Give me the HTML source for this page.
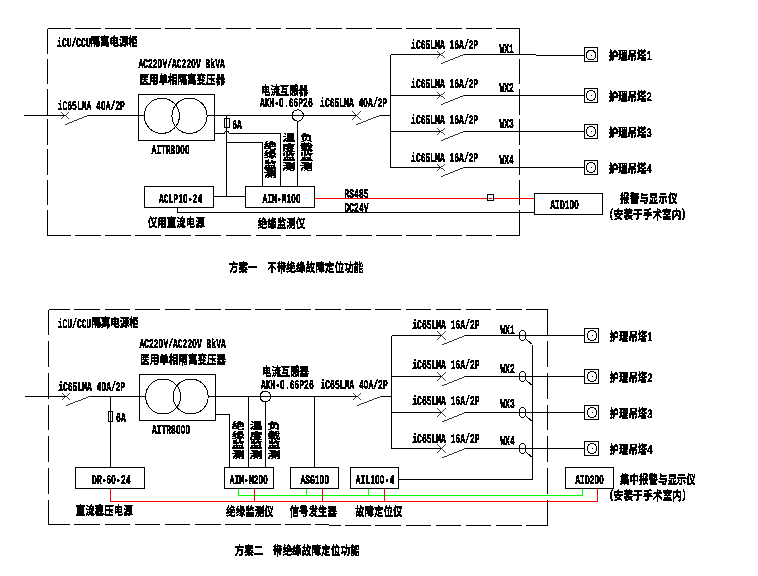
<!DOCTYPE html>
<html lang="zh-CN"><head><meta charset="utf-8"><title>医疗IT隔离电源系统方案</title>
<style>
html,body{margin:0;padding:0;background:#fff;}
body{width:758px;height:576px;overflow:hidden;}
svg{display:block;will-change:transform;shape-rendering:crispEdges;}
text{text-rendering:geometricPrecision;}
text.l{font-family:"Liberation Mono",monospace;font-size:13.3px;font-weight:bold;fill:#000;stroke:#000;stroke-width:0.3px;}
tspan.z{font-family:"Liberation Sans",sans-serif;letter-spacing:0.044em;}
text.c{font-family:"Liberation Sans","Noto Sans CJK SC",sans-serif;font-weight:700;fill:#000;stroke:#000;stroke-width:0.12px;}
</style></head><body>
<svg width="758" height="576" viewBox="0 0 758 576">
<rect width="758" height="576" fill="#fff"/>
<path d="M47.50 28.5H70.60M75.00 28.5H100.70M105.10 28.5H130.80M135.20 28.5H160.90M165.30 28.5H191.00M195.40 28.5H221.10M225.50 28.5H251.20M255.60 28.5H281.30M285.70 28.5H311.40M315.80 28.5H341.50M345.90 28.5H371.60M376.00 28.5H401.70M406.10 28.5H431.80M436.20 28.5H461.90M466.30 28.5H492.00M496.40 28.5H519.50M47.50 235.5H70.60M75.00 235.5H100.70M105.10 235.5H130.80M135.20 235.5H160.90M165.30 235.5H191.00M195.40 235.5H221.10M225.50 235.5H251.20M255.60 235.5H281.30M285.70 235.5H311.40M315.80 235.5H341.50M345.90 235.5H371.60M376.00 235.5H401.70M406.10 235.5H431.80M436.20 235.5H461.90M466.30 235.5H492.00M496.40 235.5H519.50M47.5 28.50V54.20M519.5 28.50V54.20M47.5 58.72V84.42M519.5 58.72V84.42M47.5 88.93V114.63M519.5 88.93V114.63M47.5 119.15V144.85M519.5 119.15V144.85M47.5 149.37V175.07M519.5 149.37V175.07M47.5 179.58V205.28M519.5 179.58V205.28M47.5 209.80V235.50M519.5 209.80V235.50" fill="none" stroke="#000" stroke-width="1"/>
<line x1="24" y1="115.5" x2="65" y2="115.5" stroke="#000" stroke-width="1" />
<line x1="60.9" y1="111.8" x2="69.1" y2="119.2" stroke="#000" stroke-width="0.75" />
<line x1="60.9" y1="119.2" x2="69.1" y2="111.8" stroke="#000" stroke-width="0.75" />
<line x1="65" y1="124.7" x2="88.3" y2="115.5" stroke="#000" stroke-width="0.8" />
<line x1="88.3" y1="115.5" x2="144.3" y2="115.5" stroke="#000" stroke-width="1" />
<rect x="138.5" y="94.5" width="76.0" height="45.5" fill="none" stroke="#000" stroke-width="1"/>
<circle cx="161.8" cy="115.8" r="17.6" fill="none" stroke="#000" stroke-width="1"/>
<circle cx="189.5" cy="115.8" r="17.6" fill="none" stroke="#000" stroke-width="1"/>
<line x1="207" y1="115.5" x2="356.4" y2="115.5" stroke="#000" stroke-width="1" />
<line x1="226.5" y1="115.5" x2="226.5" y2="196.5" stroke="#000" stroke-width="1" />
<rect x="224.5" y="118.5" width="5.0" height="9.0" fill="none" stroke="#000" stroke-width="1"/>
<path d="M214.5 133.5H224L225.5 131.5H228L229.5 133.5H280.5V186.5" fill="none" stroke="#000" stroke-width="1"/>
<polyline points="226.5,142.5 262.5,142.5 262.5,186.5" fill="none" stroke="#000" stroke-width="1" />
<circle cx="297.7" cy="115.5" r="5.7" fill="none" stroke="#000" stroke-width="1"/>
<line x1="138" y1="115.5" x2="138" y2="115.5" stroke="#000" stroke-width="1" />
<line x1="297.5" y1="121.0" x2="297.5" y2="186.5" stroke="#000" stroke-width="1" />
<rect x="144.5" y="186.5" width="69.0" height="21.0" fill="none" stroke="#000" stroke-width="1"/>
<rect x="245.5" y="186.5" width="69.0" height="21.0" fill="none" stroke="#000" stroke-width="1"/>
<line x1="213.5" y1="196.5" x2="245.5" y2="196.5" stroke="#000" stroke-width="1" />
<polyline points="177.5,207.5 177.5,212.5 534.5,212.5" fill="none" stroke="#000" stroke-width="1" />
<line x1="314.5" y1="198.5" x2="534.5" y2="198.5" stroke="#f00" stroke-width="1" />
<rect x="487.5" y="194.5" width="6.0" height="6.0" fill="none" stroke="#000" stroke-width="1"/>
<rect x="488" y="198" width="1" height="1" fill="#0ff"/><rect x="492" y="198" width="1" height="1" fill="#0ff"/>
<line x1="352.29999999999995" y1="111.8" x2="360.5" y2="119.2" stroke="#000" stroke-width="0.75" />
<line x1="352.29999999999995" y1="119.2" x2="360.5" y2="111.8" stroke="#000" stroke-width="0.75" />
<line x1="356.4" y1="124.7" x2="379.8" y2="115.5" stroke="#000" stroke-width="0.8" />
<line x1="379.8" y1="115.5" x2="390.5" y2="115.5" stroke="#000" stroke-width="1" />
<line x1="390.5" y1="54.5" x2="390.5" y2="167.5" stroke="#000" stroke-width="1" />
<line x1="390.5" y1="54.5" x2="440.9" y2="54.5" stroke="#000" stroke-width="1" />
<line x1="436.79999999999995" y1="50.8" x2="445.0" y2="58.2" stroke="#000" stroke-width="0.75" />
<line x1="436.79999999999995" y1="58.2" x2="445.0" y2="50.8" stroke="#000" stroke-width="0.75" />
<line x1="440.9" y1="63.7" x2="464.2" y2="54.5" stroke="#000" stroke-width="0.8" />
<polyline points="464.2,54.5 535.5,54.5" fill="none" stroke="#000" stroke-width="1" />
<line x1="535.5" y1="55.5" x2="584.5" y2="55.5" stroke="#000" stroke-width="1" />
<rect x="584.5" y="47.5" width="13.0" height="14.0" fill="none" stroke="#000" stroke-width="1"/>
<circle cx="591.0" cy="55.2" r="4.9" fill="none" stroke="#000" stroke-width="1"/>
<rect x="590.5" y="54.7" width="1" height="1" fill="#000"/>
<line x1="390.5" y1="95.5" x2="440.9" y2="95.5" stroke="#000" stroke-width="1" />
<line x1="436.79999999999995" y1="91.8" x2="445.0" y2="99.2" stroke="#000" stroke-width="0.75" />
<line x1="436.79999999999995" y1="99.2" x2="445.0" y2="91.8" stroke="#000" stroke-width="0.75" />
<line x1="440.9" y1="104.7" x2="464.2" y2="95.5" stroke="#000" stroke-width="0.8" />
<line x1="464.2" y1="95.5" x2="584.5" y2="95.5" stroke="#000" stroke-width="1" />
<rect x="584.5" y="88.5" width="13.0" height="14.0" fill="none" stroke="#000" stroke-width="1"/>
<circle cx="591.0" cy="95.5" r="4.9" fill="none" stroke="#000" stroke-width="1"/>
<rect x="590.5" y="95.0" width="1" height="1" fill="#000"/>
<line x1="390.5" y1="131.5" x2="440.9" y2="131.5" stroke="#000" stroke-width="1" />
<line x1="436.79999999999995" y1="127.8" x2="445.0" y2="135.2" stroke="#000" stroke-width="0.75" />
<line x1="436.79999999999995" y1="135.2" x2="445.0" y2="127.8" stroke="#000" stroke-width="0.75" />
<line x1="440.9" y1="140.7" x2="464.2" y2="131.5" stroke="#000" stroke-width="0.8" />
<line x1="464.2" y1="131.5" x2="584.5" y2="131.5" stroke="#000" stroke-width="1" />
<rect x="584.5" y="124.5" width="13.0" height="14.0" fill="none" stroke="#000" stroke-width="1"/>
<circle cx="591.0" cy="131.5" r="4.9" fill="none" stroke="#000" stroke-width="1"/>
<rect x="590.5" y="131.0" width="1" height="1" fill="#000"/>
<line x1="390.5" y1="167.5" x2="440.9" y2="167.5" stroke="#000" stroke-width="1" />
<line x1="436.79999999999995" y1="163.8" x2="445.0" y2="171.2" stroke="#000" stroke-width="0.75" />
<line x1="436.79999999999995" y1="171.2" x2="445.0" y2="163.8" stroke="#000" stroke-width="0.75" />
<line x1="440.9" y1="176.7" x2="464.2" y2="167.5" stroke="#000" stroke-width="0.8" />
<line x1="464.2" y1="167.5" x2="584.5" y2="167.5" stroke="#000" stroke-width="1" />
<rect x="584.5" y="160.5" width="13.0" height="14.0" fill="none" stroke="#000" stroke-width="1"/>
<circle cx="591.0" cy="167.5" r="4.9" fill="none" stroke="#000" stroke-width="1"/>
<rect x="590.5" y="167.0" width="1" height="1" fill="#000"/>
<rect x="534.5" y="193.5" width="68.0" height="21.0" fill="none" stroke="#000" stroke-width="1"/>
<path d="M48.50 309.5H70.05M74.45 309.5H100.15M104.55 309.5H130.25M134.65 309.5H160.35M164.75 309.5H190.45M194.85 309.5H220.55M224.95 309.5H250.65M255.05 309.5H280.75M285.15 309.5H310.85M315.25 309.5H340.95M345.35 309.5H371.05M375.45 309.5H401.15M405.55 309.5H431.25M435.65 309.5H461.35M465.75 309.5H491.45M495.85 309.5H521.55M525.95 309.5H547.50M48.50 524.5H70.05M74.45 524.5H100.15M104.55 524.5H130.25M134.65 524.5H160.35M164.75 524.5H190.45M194.85 524.5H220.55M224.95 524.5H250.65M255.05 524.5H280.75M285.15 524.5H310.85M315.25 524.5H329M329 525.5H340.95M345.35 525.5H371.05M375.45 525.5H401.15M405.55 525.5H431.25M435.65 525.5H461.35M465.75 525.5H491.45M495.85 525.5H521.55M525.95 525.5H547.50M48.5 309.50V335.20M547.5 309.50V335.20M48.5 341.22V366.92M547.5 341.22V366.92M48.5 372.93V398.63M547.5 372.93V398.63M48.5 404.65V430.35M547.5 404.65V430.35M48.5 436.37V462.07M547.5 436.37V462.07M48.5 468.08V493.78M547.5 468.08V493.78M48.5 499.80V524.50M547.5 499.80V525.50" fill="none" stroke="#000" stroke-width="1"/>
<line x1="24.5" y1="396.5" x2="66" y2="396.5" stroke="#000" stroke-width="1" />
<line x1="61.9" y1="392.8" x2="70.1" y2="400.2" stroke="#000" stroke-width="0.75" />
<line x1="61.9" y1="400.2" x2="70.1" y2="392.8" stroke="#000" stroke-width="0.75" />
<line x1="66" y1="405.7" x2="89.5" y2="396.5" stroke="#000" stroke-width="0.8" />
<line x1="89.5" y1="396.5" x2="145.5" y2="396.5" stroke="#000" stroke-width="1" />
<line x1="110.5" y1="396.5" x2="110.5" y2="467.5" stroke="#000" stroke-width="1" />
<rect x="108.5" y="411.5" width="4.0" height="10.0" fill="none" stroke="#000" stroke-width="1"/>
<rect x="139.5" y="374.5" width="76.0" height="46.0" fill="none" stroke="#000" stroke-width="1"/>
<circle cx="163.1" cy="396.5" r="17.5" fill="none" stroke="#000" stroke-width="1"/>
<circle cx="190.7" cy="396.5" r="17.5" fill="none" stroke="#000" stroke-width="1"/>
<line x1="208.2" y1="396.5" x2="357" y2="396.5" stroke="#000" stroke-width="1" />
<polyline points="215.5,414.5 229.5,414.5 229.5,467.5" fill="none" stroke="#000" stroke-width="1" />
<line x1="248.5" y1="396.5" x2="248.5" y2="467.5" stroke="#000" stroke-width="1" />
<circle cx="265.4" cy="396.5" r="5.4" fill="none" stroke="#000" stroke-width="1"/>
<line x1="265.5" y1="401.9" x2="265.5" y2="467.5" stroke="#000" stroke-width="1" />
<line x1="314.5" y1="396.5" x2="314.5" y2="467.5" stroke="#000" stroke-width="1" />
<rect x="75.5" y="467.5" width="69.0" height="21.0" fill="none" stroke="#000" stroke-width="1"/>
<rect x="224.5" y="467.5" width="49.0" height="21.0" fill="none" stroke="#000" stroke-width="1"/>
<rect x="290.5" y="467.5" width="48.0" height="21.0" fill="none" stroke="#000" stroke-width="1"/>
<rect x="350.5" y="467.5" width="48.0" height="21.0" fill="none" stroke="#000" stroke-width="1"/>
<rect x="565.5" y="467.5" width="48.0" height="21.0" fill="none" stroke="#000" stroke-width="1"/>
<polyline points="238.5,488.5 238.5,495.5 582.5,495.5 582.5,488.5" fill="none" stroke="#0f0" stroke-width="1" />
<line x1="306.5" y1="488.5" x2="306.5" y2="495.5" stroke="#0f0" stroke-width="1" />
<line x1="368.5" y1="488.5" x2="368.5" y2="495.5" stroke="#0f0" stroke-width="1" />
<polyline points="110.5,488.5 110.5,501.5 597.5,501.5 597.5,488.5" fill="none" stroke="#f00" stroke-width="1" />
<line x1="254.5" y1="488.5" x2="254.5" y2="501.5" stroke="#f00" stroke-width="1" />
<line x1="322.5" y1="488.5" x2="322.5" y2="501.5" stroke="#f00" stroke-width="1" />
<line x1="384.5" y1="488.5" x2="384.5" y2="501.5" stroke="#f00" stroke-width="1" />
<line x1="352.9" y1="392.8" x2="361.1" y2="400.2" stroke="#000" stroke-width="0.75" />
<line x1="352.9" y1="400.2" x2="361.1" y2="392.8" stroke="#000" stroke-width="0.75" />
<line x1="357" y1="405.7" x2="380.9" y2="396.5" stroke="#000" stroke-width="0.8" />
<line x1="380.9" y1="396.5" x2="391.5" y2="396.5" stroke="#000" stroke-width="1" />
<line x1="391.5" y1="335.5" x2="391.5" y2="448.5" stroke="#000" stroke-width="1" />
<line x1="391.5" y1="335.5" x2="441.5" y2="335.5" stroke="#000" stroke-width="1" />
<line x1="437.4" y1="331.8" x2="445.6" y2="339.2" stroke="#000" stroke-width="0.75" />
<line x1="437.4" y1="339.2" x2="445.6" y2="331.8" stroke="#000" stroke-width="0.75" />
<line x1="441.5" y1="344.7" x2="464.6" y2="335.5" stroke="#000" stroke-width="0.8" />
<line x1="464.6" y1="335.5" x2="584.5" y2="335.5" stroke="#000" stroke-width="1" />
<rect x="584.5" y="328.5" width="14.0" height="14.0" fill="none" stroke="#000" stroke-width="1"/>
<circle cx="592.0" cy="335.5" r="4.9" fill="none" stroke="#000" stroke-width="1"/>
<rect x="591.5" y="335.0" width="1" height="1" fill="#000"/>
<ellipse cx="522.6" cy="335.5" rx="3.4" ry="5.0" fill="none" stroke="#000" stroke-width="1"/>
<line x1="525.6" y1="338.9" x2="532.5" y2="344.5" stroke="#000" stroke-width="1" />
<line x1="391.5" y1="376.5" x2="441.5" y2="376.5" stroke="#000" stroke-width="1" />
<line x1="437.4" y1="372.8" x2="445.6" y2="380.2" stroke="#000" stroke-width="0.75" />
<line x1="437.4" y1="380.2" x2="445.6" y2="372.8" stroke="#000" stroke-width="0.75" />
<line x1="441.5" y1="385.7" x2="464.6" y2="376.5" stroke="#000" stroke-width="0.8" />
<line x1="464.6" y1="376.5" x2="584.5" y2="376.5" stroke="#000" stroke-width="1" />
<rect x="584.5" y="369.5" width="14.0" height="14.0" fill="none" stroke="#000" stroke-width="1"/>
<circle cx="592.0" cy="376.5" r="4.9" fill="none" stroke="#000" stroke-width="1"/>
<rect x="591.5" y="376.0" width="1" height="1" fill="#000"/>
<ellipse cx="522.6" cy="376.5" rx="3.4" ry="5.0" fill="none" stroke="#000" stroke-width="1"/>
<line x1="525.6" y1="379.9" x2="532.5" y2="385.5" stroke="#000" stroke-width="1" />
<line x1="391.5" y1="412.5" x2="441.5" y2="412.5" stroke="#000" stroke-width="1" />
<line x1="437.4" y1="408.8" x2="445.6" y2="416.2" stroke="#000" stroke-width="0.75" />
<line x1="437.4" y1="416.2" x2="445.6" y2="408.8" stroke="#000" stroke-width="0.75" />
<line x1="441.5" y1="421.7" x2="464.6" y2="412.5" stroke="#000" stroke-width="0.8" />
<line x1="464.6" y1="412.5" x2="584.5" y2="412.5" stroke="#000" stroke-width="1" />
<rect x="584.5" y="405.5" width="14.0" height="14.0" fill="none" stroke="#000" stroke-width="1"/>
<circle cx="592.0" cy="412.5" r="4.9" fill="none" stroke="#000" stroke-width="1"/>
<rect x="591.5" y="412.0" width="1" height="1" fill="#000"/>
<ellipse cx="522.6" cy="412.5" rx="3.4" ry="5.0" fill="none" stroke="#000" stroke-width="1"/>
<line x1="525.6" y1="415.9" x2="532.5" y2="421.5" stroke="#000" stroke-width="1" />
<line x1="391.5" y1="448.5" x2="441.5" y2="448.5" stroke="#000" stroke-width="1" />
<line x1="437.4" y1="444.8" x2="445.6" y2="452.2" stroke="#000" stroke-width="0.75" />
<line x1="437.4" y1="452.2" x2="445.6" y2="444.8" stroke="#000" stroke-width="0.75" />
<line x1="441.5" y1="457.7" x2="464.6" y2="448.5" stroke="#000" stroke-width="0.8" />
<line x1="464.6" y1="448.5" x2="584.5" y2="448.5" stroke="#000" stroke-width="1" />
<rect x="584.5" y="441.5" width="14.0" height="14.0" fill="none" stroke="#000" stroke-width="1"/>
<circle cx="592.0" cy="448.5" r="4.9" fill="none" stroke="#000" stroke-width="1"/>
<rect x="591.5" y="448.0" width="1" height="1" fill="#000"/>
<ellipse cx="522.6" cy="448.5" rx="3.4" ry="5.0" fill="none" stroke="#000" stroke-width="1"/>
<line x1="525.6" y1="451.9" x2="532.5" y2="457.5" stroke="#000" stroke-width="1" />
<polyline points="532.5,344.5 532.5,479.5 398.5,479.5" fill="none" stroke="#000" stroke-width="1" />
<defs><filter id="bw" x="0" y="0" width="100%" height="100%" filterUnits="userSpaceOnUse" color-interpolation-filters="sRGB"><feComponentTransfer><feFuncA type="discrete" tableValues="0 0 1 1 1"/></feComponentTransfer></filter></defs>
<g filter="url(#bw)">
<text class="l" transform="translate(57.1,46.6) scale(0.6014,1)">iCU/CCU</text>
<text class="c" font-size="9.6" transform="translate(90.6,46.36) scale(0.9833,1.3)">隔离电源柜</text>
<text class="l" transform="translate(57.7,110.0) scale(0.6014,1)">iC65LMA 4<tspan class="z">0</tspan>A/2P</text>
<text class="l" transform="translate(138.4,68.2) scale(0.6014,1)">AC22<tspan class="z">0</tspan>V/AC22<tspan class="z">0</tspan>V 8kVA</text>
<text class="c" font-size="9.6" transform="translate(139.5,83.96) scale(0.9919,1.3)">医用单相隔离变压器</text>
<text class="l" transform="translate(151.4,154.4) scale(0.6014,1)">AITR8<tspan class="z">0</tspan><tspan class="z">0</tspan><tspan class="z">0</tspan></text>
<text class="l" transform="translate(232.3,129.4) scale(0.6014,1)">6A</text>
<text class="c" font-size="9.6" transform="translate(261,95.26) scale(0.9833,1.3)">电流互感器</text>
<text class="l" transform="translate(259.9,107.4) scale(0.6014,1)">AKH-<tspan class="z">0</tspan>.66P26</text>
<text class="c" font-size="9.6" text-anchor="middle" transform="translate(270.2,0) scale(1.354,1)" x="0 0 0 0" y="148.58 158.18 167.78 177.38">绝缘监测</text>
<text class="c" font-size="9.6" text-anchor="middle" transform="translate(288.8,0) scale(1.354,1)" x="0 0 0 0" y="141.08 150.68 160.28 169.88">温度监测</text>
<text class="c" font-size="9.6" text-anchor="middle" transform="translate(306.5,0) scale(1.354,1)" x="0 0 0 0" y="141.08 150.68 160.28 169.88">负载监测</text>
<text class="l" transform="translate(159.0,202.9) scale(0.6014,1)">ACLP1<tspan class="z">0</tspan>-24</text>
<text class="l" transform="translate(262.4,202.9) scale(0.6014,1)">AIM-M1<tspan class="z">0</tspan><tspan class="z">0</tspan></text>
<text class="c" font-size="9.6" transform="translate(147.8,227.36) scale(0.9896,1.3)">仪用直流电源</text>
<text class="c" font-size="9.6" transform="translate(257.8,227.86) scale(0.9917,1.3)">绝缘监测仪</text>
<text class="l" transform="translate(344.5,198.0) scale(0.6014,1)">RS485</text>
<text class="l" transform="translate(344.5,212.2) scale(0.6014,1)">DC24V</text>
<text class="l" transform="translate(320.1,107.4) scale(0.6014,1)">iC65LMA 4<tspan class="z">0</tspan>A/2P</text>
<text class="l" transform="translate(411.1,48.6) scale(0.6014,1)">iC65LMA 16A/2P</text>
<text class="l" transform="translate(499.4,53.2) scale(0.6014,1)">WX1</text>
<text class="c" font-size="9.6" transform="translate(608.8,60.46) scale(0.9792,1.3)">护理吊塔1</text>
<text class="l" transform="translate(411.1,88.3) scale(0.6014,1)">iC65LMA 16A/2P</text>
<text class="l" transform="translate(499.4,92.0) scale(0.6014,1)">WX2</text>
<text class="c" font-size="9.6" transform="translate(608.8,100.86) scale(0.9792,1.3)">护理吊塔2</text>
<text class="l" transform="translate(411.1,124.1) scale(0.6014,1)">iC65LMA 16A/2P</text>
<text class="l" transform="translate(499.4,127.6) scale(0.6014,1)">WX3</text>
<text class="c" font-size="9.6" transform="translate(608.8,137.06) scale(0.9792,1.3)">护理吊塔3</text>
<text class="l" transform="translate(411.1,161.9) scale(0.6014,1)">iC65LMA 16A/2P</text>
<text class="l" transform="translate(499.4,163.5) scale(0.6014,1)">WX4</text>
<text class="c" font-size="9.6" transform="translate(608.8,173.26) scale(0.9792,1.3)">护理吊塔4</text>
<text class="l" transform="translate(550.3,209.2) scale(0.6014,1)">AID1<tspan class="z">0</tspan><tspan class="z">0</tspan></text>
<text class="c" font-size="9.6" transform="translate(620.1,202.66) scale(0.9965,1.3)">报警与显示仪</text>
<text class="c" font-size="9.6" transform="translate(603.8,219.46) scale(1.0127,1.3)">（安装于手术室内）</text>
<text class="c" font-size="9.6" transform="translate(229,271.66) scale(0.9896,1.3)">方案一</text>
<text class="c" font-size="9.6" transform="translate(267,271.66) scale(1.0052,1.3)">不带绝缘故障定位功能</text>
<text class="l" transform="translate(57.7,327.6) scale(0.6014,1)">iCU/CCU</text>
<text class="c" font-size="9.6" transform="translate(91.4,327.36) scale(0.9833,1.3)">隔离电源柜</text>
<text class="l" transform="translate(58.2,391.0) scale(0.6014,1)">iC65LMA 4<tspan class="z">0</tspan>A/2P</text>
<text class="l" transform="translate(116.1,421.8) scale(0.6014,1)">6A</text>
<text class="l" transform="translate(139.4,347.6) scale(0.6014,1)">AC22<tspan class="z">0</tspan>V/AC22<tspan class="z">0</tspan>V 8kVA</text>
<text class="c" font-size="9.6" transform="translate(140.3,364.26) scale(0.9919,1.3)">医用单相隔离变压器</text>
<text class="l" transform="translate(151.9,434.4) scale(0.6014,1)">AITR8<tspan class="z">0</tspan><tspan class="z">0</tspan><tspan class="z">0</tspan></text>
<text class="c" font-size="9.6" transform="translate(262,375.56) scale(0.9792,1.3)">电流互感器</text>
<text class="l" transform="translate(260.9,388.6) scale(0.6014,1)">AKH-<tspan class="z">0</tspan>.66P26</text>
<text class="c" font-size="9.6" text-anchor="middle" transform="translate(238.2,0) scale(1.354,1)" x="0 0 0 0" y="429.08 438.68 448.28 457.88">绝缘监测</text>
<text class="c" font-size="9.6" text-anchor="middle" transform="translate(255.9,0) scale(1.354,1)" x="0 0 0 0" y="429.08 438.68 448.28 457.88">温度监测</text>
<text class="c" font-size="9.6" text-anchor="middle" transform="translate(274.0,0) scale(1.354,1)" x="0 0 0 0" y="429.08 438.68 448.28 457.88">负载监测</text>
<text class="l" transform="translate(92.1,484.2) scale(0.6014,1)">DR-6<tspan class="z">0</tspan>-24</text>
<text class="l" transform="translate(229.7,484.2) scale(0.6014,1)">AIM-M2<tspan class="z">0</tspan><tspan class="z">0</tspan></text>
<text class="l" transform="translate(300.4,484.2) scale(0.6014,1)">ASG1<tspan class="z">0</tspan><tspan class="z">0</tspan></text>
<text class="l" transform="translate(355.8,484.2) scale(0.6014,1)">AIL1<tspan class="z">0</tspan><tspan class="z">0</tspan>-4</text>
<text class="l" transform="translate(575.3,484.4) scale(0.6014,1)">AID2<tspan class="z">0</tspan><tspan class="z">0</tspan></text>
<text class="c" font-size="9.6" transform="translate(75.8,515.06) scale(0.9896,1.3)">直流稳压电源</text>
<text class="c" font-size="9.6" transform="translate(226.3,515.66) scale(0.9896,1.3)">绝缘监测仪</text>
<text class="c" font-size="9.6" transform="translate(289.5,515.66) scale(0.9896,1.3)">信号发生器</text>
<text class="c" font-size="9.6" transform="translate(355,515.66) scale(0.9896,1.3)">故障定位仪</text>
<text class="l" transform="translate(320.5,388.8) scale(0.6014,1)">iC65LMA 4<tspan class="z">0</tspan>A/2P</text>
<text class="l" transform="translate(412.3,328.6) scale(0.6014,1)">iC65LMA 16A/2P</text>
<text class="l" transform="translate(500.3,333.9) scale(0.6014,1)">WX1</text>
<text class="c" font-size="9.6" transform="translate(609.6,341.36) scale(0.9792,1.3)">护理吊塔1</text>
<text class="l" transform="translate(412.3,368.8) scale(0.6014,1)">iC65LMA 16A/2P</text>
<text class="l" transform="translate(500.3,372.6) scale(0.6014,1)">WX2</text>
<text class="c" font-size="9.6" transform="translate(609.6,381.96) scale(0.9792,1.3)">护理吊塔2</text>
<text class="l" transform="translate(412.3,404.6) scale(0.6014,1)">iC65LMA 16A/2P</text>
<text class="l" transform="translate(500.3,408.4) scale(0.6014,1)">WX3</text>
<text class="c" font-size="9.6" transform="translate(609.6,417.56) scale(0.9792,1.3)">护理吊塔3</text>
<text class="l" transform="translate(412.3,443.2) scale(0.6014,1)">iC65LMA 16A/2P</text>
<text class="l" transform="translate(500.3,444.9) scale(0.6014,1)">WX4</text>
<text class="c" font-size="9.6" transform="translate(609.6,453.86) scale(0.9792,1.3)">护理吊塔4</text>
<text class="c" font-size="9.6" transform="translate(620.1,483.66) scale(0.9857,1.3)">集中报警与显示仪</text>
<text class="c" font-size="9.6" transform="translate(603.8,499.96) scale(1.0185,1.3)">（安装于手术室内）</text>
<text class="c" font-size="9.6" transform="translate(234.8,555.06) scale(0.9896,1.3)">方案二</text>
<text class="c" font-size="9.6" transform="translate(272.8,555.06) scale(1.0069,1.3)">带绝缘故障定位功能</text>
</g>
</svg>
</body></html>
